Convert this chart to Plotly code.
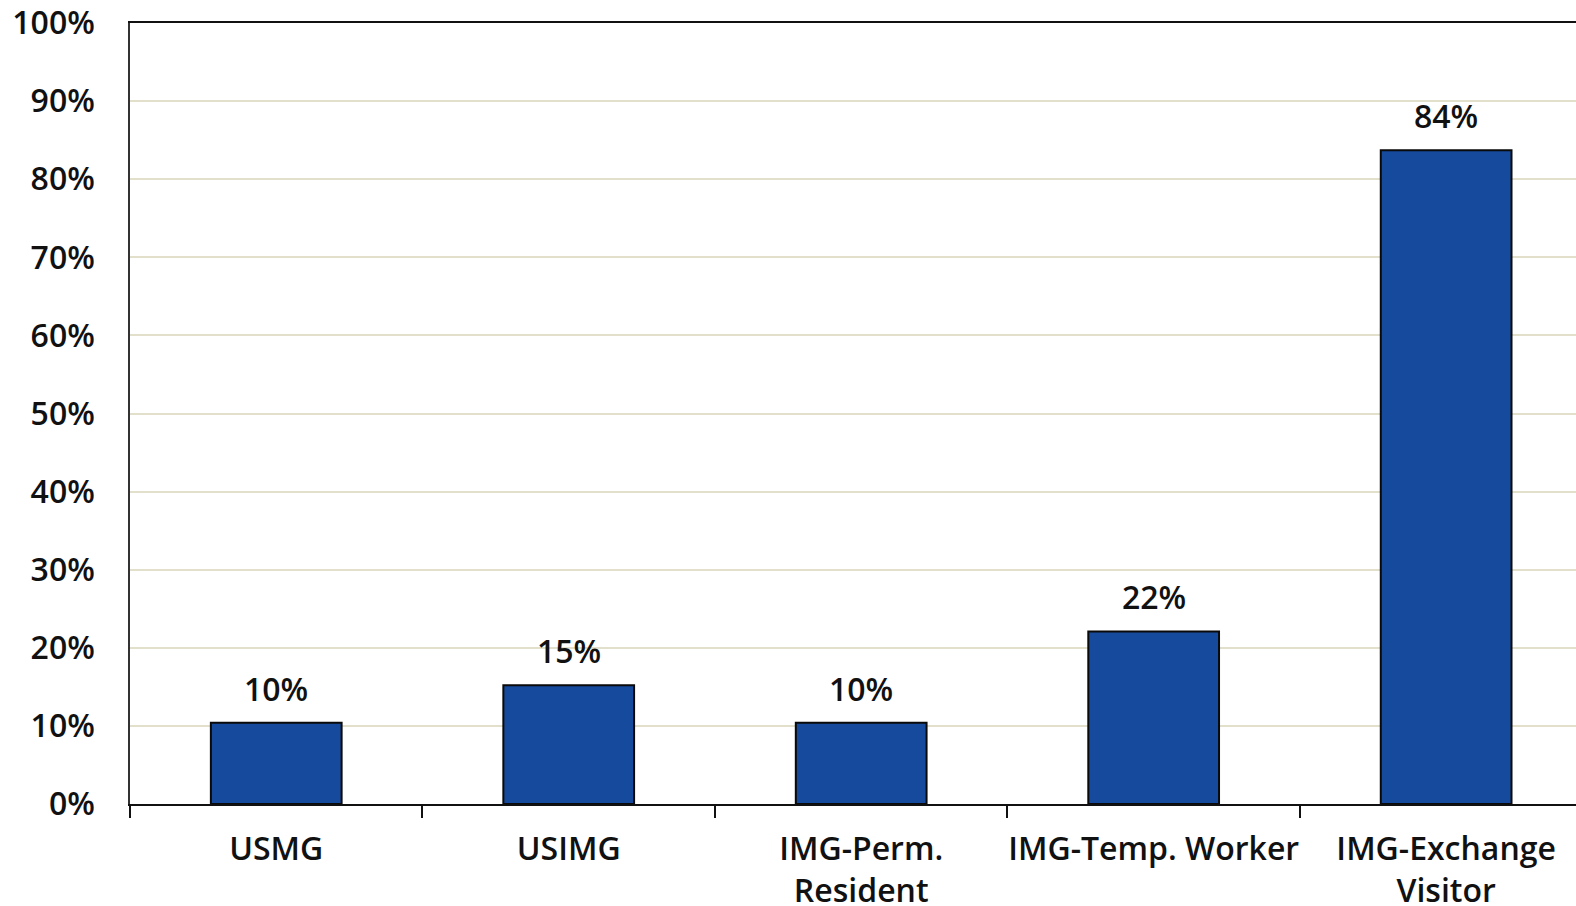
import plotly.graph_objects as go

categories = ["USMG", "USIMG", "IMG-Perm.<br>Resident", "IMG-Temp. Worker", "IMG-Exchange<br>Visitor"]
values = [10.4, 15.2, 10.4, 22.1, 83.7]
y_ticks = [0, 10, 20, 30, 40, 50, 60, 70, 80, 90, 100]
y_tick_labels = [f"{v}%" for v in y_ticks]

FONT = "Open Sans"
TXT = "#111111"
FS = 32

fig = go.Figure()
fig.add_trace(go.Bar(
    x=categories, y=values, width=0.447,
    marker=dict(color="#164A9C", line=dict(color="#0a0a0a", width=2)),
    hoverinfo="skip",
))

for c, v in zip(categories, values):
    fig.add_annotation(x=c, y=v, text=f"{round(v)}%", showarrow=False,
                       yanchor="bottom", yshift=11,
                       font=dict(family=FONT, size=FS, color=TXT, weight=600))

fig.update_layout(
    width=1576, height=906,
    margin=dict(l=130, r=0, t=23, b=102, autoexpand=False),
    paper_bgcolor="white", plot_bgcolor="white",
    showlegend=False,
    font=dict(family=FONT, size=FS, color=TXT, weight=600),
)
fig.update_xaxes(
    type="category", range=[-0.5, 4.444], automargin=False, tickangle=0,
    showline=True, linecolor="#111111", linewidth=2, mirror=True,
    ticks="outside", tickson="boundaries", ticklen=12, tickwidth=2, tickcolor="#111111",
    showgrid=False, ticklabelstandoff=16,
    tickfont=dict(family=FONT, size=FS, color=TXT, weight=600),
)
fig.update_yaxes(
    range=[0, 100], tickvals=y_ticks, ticktext=y_tick_labels, automargin=False,
    showline=True, linecolor="#333333", linewidth=1.5,
    showgrid=True, gridcolor="#E2DFCB", gridwidth=2,
    ticks="", ticklabelstandoff=27, zeroline=False,
    tickfont=dict(family=FONT, size=FS, color=TXT, weight=600),
)

fig.write_html("out.html")
